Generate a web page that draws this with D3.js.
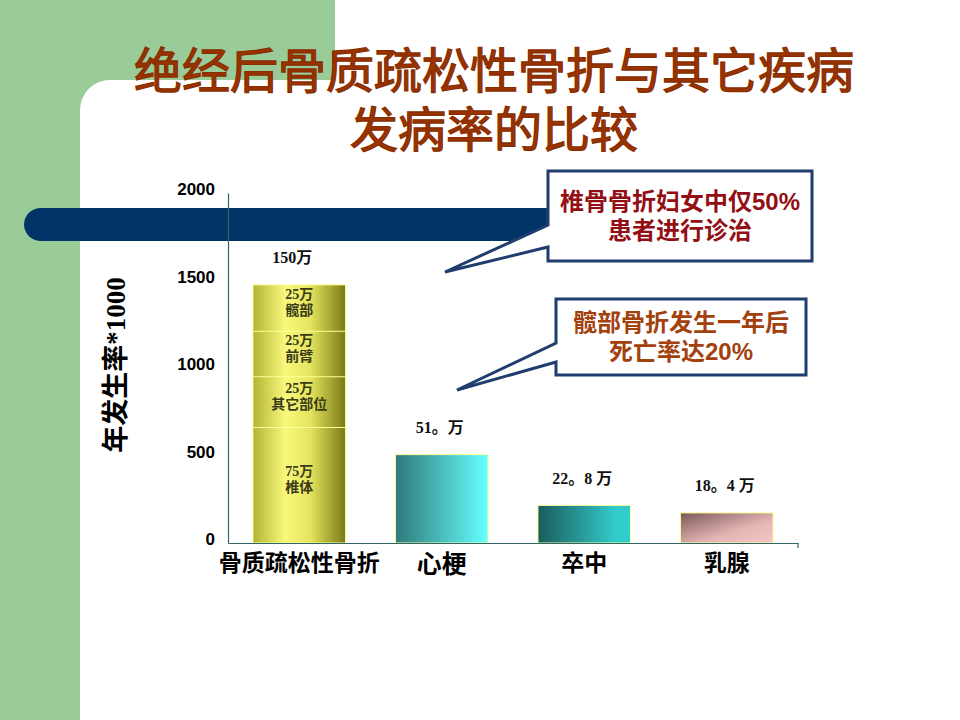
<!DOCTYPE html>
<html>
<head>
<meta charset="utf-8">
<script src="https://cdn.jsdelivr.net/npm/d3@7"></script>
<style>
  body { margin: 0; background: #fff; }
  svg { display: block; }
</style>
</head>
<body>
<div id="chart"></div>
<script>
// data (values are "年发生率*1000")
var categories = ["骨质疏松性骨折", "心梗", "卒中", "乳腺"];
var fractureParts = ["椎体", "其它部位", "前臂", "髋部"];
var fracturePartLabels = ["75万", "25万", "25万", "25万"];
var fractureValues = [660, 290, 260, 265];
var otherCategories = ["心梗", "卒中", "乳腺"];
var otherValues = [505, 215, 172];
var barLabels = ["150万", "51。万", "22。8 万", "18。4 万"];
var yTicks = [0, 500, 1000, 1500, 2000];

var titleLines = ["绝经后骨质疏松性骨折与其它疾病", "发病率的比较"];
var callout1 = ["椎骨骨折妇女中仅50%", "患者进行诊治"];
var callout2 = ["髋部骨折发生一年后", "死亡率达20%"];

var width = 960, height = 720;
var cjk = "'Noto Sans CJK SC', sans-serif";
var serif = "'Liberation Serif', 'Noto Sans CJK SC', serif";

var svg = d3.select("#chart").append("svg").attr("width", width).attr("height", height);

// slide background
svg.append("rect").attr("width", width).attr("height", height).attr("fill", "#fff");
svg.append("rect").attr("x", 0).attr("y", 0).attr("width", 335).attr("height", 120).attr("fill", "#99cc99");
svg.append("rect").attr("x", 0).attr("y", 0).attr("width", 80).attr("height", height).attr("fill", "#99cc99");
svg.append("rect").attr("x", 80).attr("y", 80).attr("width", 950).attr("height", 700).attr("rx", 30).attr("fill", "#fff");

// navy band
svg.append("rect").attr("x", 24).attr("y", 208).attr("width", 560).attr("height", 33).attr("rx", 17).attr("fill", "#003366");

// title
var title = svg.append("g");
titleLines.forEach(function(t, i) {
    title.append("text")
        .attr("x", 494).attr("y", 67 + i * 59)
        .attr("text-anchor", "middle").attr("dominant-baseline", "central")
        .attr("font-family", cjk).attr("font-weight", "normal").attr("font-size", 48)
        .attr("fill", "#993300")
        .attr("stroke", "#8a2e00").attr("stroke-width", 1.3)
        .text(t);
});

// scales
var x = d3.scaleBand().domain(categories).range([228, 798]).paddingInner(0.35).paddingOuter(0.175);
var y = d3.scaleLinear().domain([0, 2000]).range([543, 193]);

// gradients
var defs = svg.append("defs");
function grad(id, stops, diag) {
    var g = defs.append("linearGradient").attr("id", id)
        .attr("x1", 0).attr("y1", 0).attr("x2", 1).attr("y2", diag ? 1 : 0);
    stops.forEach(function(s) {
        g.append("stop").attr("offset", s[0]).attr("stop-color", s[1]);
    });
}
grad("gYellow", [[0, "#b3b334"], [0.35, "#f8f87c"], [0.62, "#e4e45e"], [1, "#7a7a16"]]);
grad("g心梗", [[0, "#2e7a7a"], [1, "#66ffff"]]);
grad("g卒中", [[0, "#1a5c5c"], [0.85, "#33cccc"], [1, "#33cccc"]]);
grad("g乳腺", [[0, "#7a5858"], [0.6, "#e4b4b4"], [1, "#f4c8c8"]], true);

// stacked fracture bar
var cum = 0;
var stack = fractureValues.map(function(v, i) {
    var d = { part: fractureParts[i], label: fracturePartLabels[i], y0: cum, y1: cum + v };
    cum += v;
    return d;
});
var fractureTotal = cum;

var bx = x(categories[0]), bw = x.bandwidth();
svg.append("rect")
    .attr("x", bx).attr("y", y(fractureTotal))
    .attr("width", bw).attr("height", y(0) - y(fractureTotal))
    .attr("fill", "url(#gYellow)").attr("stroke", "#ffff99").attr("stroke-width", 1);

svg.selectAll(".sep")
    .data(stack.slice(1))
    .enter().append("line")
    .attr("x1", bx).attr("x2", bx + bw)
    .attr("y1", function(d) { return y(d.y0); }).attr("y2", function(d) { return y(d.y0); })
    .attr("stroke", "#ffff99").attr("stroke-width", 1.2);

var segText = svg.selectAll(".seg")
    .data(stack)
    .enter().append("g")
    .attr("transform", function(d) {
        return "translate(" + (bx + bw / 2) + "," + ((y(d.y0) + y(d.y1)) / 2 - 6) + ")";
    });
segText.append("text")
    .attr("y", -7.5).attr("text-anchor", "middle").attr("dominant-baseline", "central")
    .attr("font-family", serif).attr("font-weight", "bold").attr("font-size", 14).attr("fill", "#3a3a18")
    .text(function(d) { return d.label; });
segText.append("text")
    .attr("y", 8).attr("text-anchor", "middle").attr("dominant-baseline", "central")
    .attr("font-family", serif).attr("font-weight", "bold").attr("font-size", 14).attr("fill", "#3a3a18")
    .text(function(d) { return d.part; });

// other bars
svg.selectAll(".bar")
    .data(otherValues)
    .enter().append("rect")
    .attr("x", function(d, i) { return x(otherCategories[i]); })
    .attr("y", function(d) { return y(d); })
    .attr("width", bw)
    .attr("height", function(d) { return y(0) - y(d); })
    .attr("fill", function(d, i) { return "url(#g" + otherCategories[i] + ")"; })
    .attr("stroke", "#ffff99").attr("stroke-width", 1);

// value labels above bars
var tops = [fractureTotal].concat(otherValues);
svg.selectAll(".vlab")
    .data(barLabels)
    .enter().append("text")
    .attr("x", function(d, i) { return x(categories[i]) + bw / 2 - (i == 0 ? 7 : 2); })
    .attr("y", function(d, i) { return y(tops[i]) - 27; })
    .attr("text-anchor", "middle").attr("dominant-baseline", "central")
    .attr("font-family", serif).attr("font-weight", "bold").attr("font-size", 16).attr("fill", "#111")
    .text(function(d) { return d; });

// axes
var yAxis = svg.append("g").attr("transform", "translate(228,0)")
    .call(d3.axisLeft(y).tickValues(yTicks).tickFormat(d3.format("d"))
        .tickSize(0).tickSizeOuter(0).tickPadding(13));
yAxis.select(".domain").attr("stroke", "#336666").attr("stroke-width", 1.2);
yAxis.selectAll("text")
    .attr("dy", "0.1em")
    .attr("font-family", "'Liberation Sans', Arial, sans-serif").attr("font-weight", "bold")
    .attr("font-size", 17).attr("fill", "#000");

var xAxis = svg.append("g").attr("transform", "translate(0,543)")
    .call(d3.axisBottom(x).tickSize(0).tickSizeOuter(0).tickPadding(12));
xAxis.select(".domain").attr("stroke", "#336666").attr("stroke-width", 1.2);
xAxis.selectAll("text")
    .attr("font-family", cjk).attr("font-weight", "bold")
    .attr("font-size", function(d) { return d == "心梗" ? 25 : 23; })
    .attr("fill", "#000");
xAxis.append("line")
    .attr("x1", x.range()[1]).attr("x2", x.range()[1]).attr("y1", 0).attr("y2", 5)
    .attr("stroke", "#336666").attr("stroke-width", 1.2);

// y axis title
svg.append("text")
    .attr("transform", "translate(116,365) rotate(-90)")
    .attr("text-anchor", "middle").attr("dominant-baseline", "central")
    .attr("font-family", serif).attr("font-weight", "bold").attr("font-size", 27).attr("fill", "#000")
    .text("年发生率*1000");

// callouts
function callout(box, tip, base0, base1, lines, color) {
    var p = d3.path();
    p.moveTo(box[0], box[1]);
    p.lineTo(box[2], box[1]);
    p.lineTo(box[2], box[3]);
    p.lineTo(box[0], box[3]);
    p.lineTo(box[0], base1);
    p.lineTo(tip[0], tip[1]);
    p.lineTo(box[0], base0);
    p.closePath();
    svg.append("path").attr("d", p.toString())
        .attr("fill", "#fff").attr("stroke", "#1f3d6e").attr("stroke-width", 3)
        .attr("stroke-linejoin", "miter");
    var cx = (box[0] + box[2]) / 2, cy = (box[1] + box[3]) / 2;
    lines.forEach(function(t, i) {
        svg.append("text")
            .attr("x", cx).attr("y", cy + (i - 0.5) * 29.5)
            .attr("text-anchor", "middle").attr("dominant-baseline", "central")
            .attr("font-family", "'Liberation Sans', 'Noto Sans CJK SC', sans-serif")
            .attr("font-weight", "bold").attr("font-size", 24).attr("fill", color)
            .text(t);
    });
}
callout([548, 171, 812, 261], [445, 272], 225, 247, callout1, "#930f14");
callout([556, 299, 806, 375], [457, 390], 343, 362, callout2, "#a3410e");
</script>
</body>
</html>
